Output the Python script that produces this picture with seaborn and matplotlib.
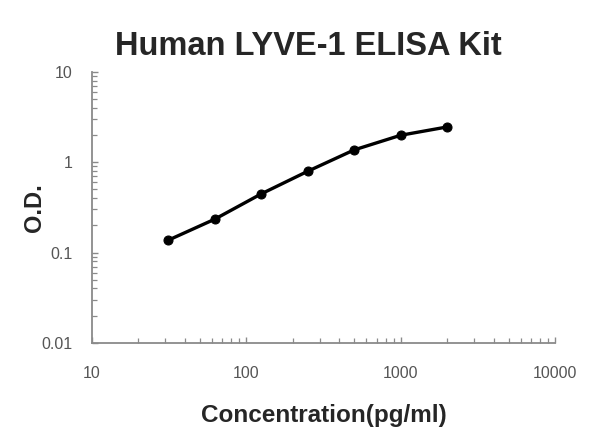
import matplotlib
matplotlib.use("Agg")
import matplotlib.pyplot as plt
import matplotlib.ticker as mticker
import seaborn as sns
import pandas as pd

# standard curve values
concentration = [31.25, 62.5, 125, 250, 500, 1000, 2000]
od = [0.137, 0.234, 0.446, 0.794, 1.37, 1.99, 2.46]

x_ticks = [10, 100, 1000, 10000]
x_tick_labels = ["10", "100", "1000", "10000"]
y_ticks = [0.01, 0.1, 1, 10]
y_tick_labels = ["0.01", "0.1", "1", "10"]

df = pd.DataFrame({"conc": concentration, "od": od})

sns.set_style("white")
plt.rcParams["font.family"] = ["Liberation Sans", "DejaVu Sans"]

fig = plt.figure(figsize=(6, 4.47), dpi=100)
ax = fig.add_axes([0.153, 0.233, 0.772, 0.606])

sns.lineplot(data=df, x="conc", y="od", ax=ax, color="black", linewidth=2.4,
             marker="o", markersize=6.5, markeredgecolor="black")

ax.set_xscale("log")
ax.set_yscale("log")
ax.set_xlim(10, 10000)
ax.set_ylim(0.01, 10)

ax.set_xticks(x_ticks)
ax.set_xticklabels(x_tick_labels)
ax.set_yticks(y_ticks)
ax.set_yticklabels(y_tick_labels)
ax.xaxis.set_minor_locator(mticker.LogLocator(base=10, subs=range(2, 10)))
ax.yaxis.set_minor_locator(mticker.LogLocator(base=10, subs=range(2, 10)))
ax.xaxis.set_minor_formatter(mticker.NullFormatter())
ax.yaxis.set_minor_formatter(mticker.NullFormatter())

axis_grey = "#8a8a8a"
for side in ["top", "right"]:
    ax.spines[side].set_visible(False)
for side in ["left", "bottom"]:
    ax.spines[side].set_color(axis_grey)
    ax.spines[side].set_linewidth(1.3)

# the white style switches ticks off, turn them back on (inward, grey)
ax.tick_params(which="both", bottom=True, left=True, top=False, right=False,
               direction="in", colors=axis_grey, labelcolor="#555555", labelsize=11.5)
ax.tick_params(which="major", length=4, width=1)
ax.tick_params(which="minor", length=3.5, width=0.9)
ax.tick_params(axis="x", which="major", pad=17)
ax.tick_params(axis="y", which="major", pad=14)

ax.set_xlabel("Concentration(pg/ml)", fontsize=17.5, fontweight="bold")
ax.xaxis.set_label_coords(0.5, -0.269)
ax.xaxis.label.set_va("center")
ax.set_ylabel("O.D.", fontsize=17, fontweight="bold")
ax.yaxis.set_label_coords(-0.123, 0.5)
ax.yaxis.label.set_va("center")

fig.suptitle("Human LYVE-1 ELISA Kit", x=0.514, y=1 - 55 / 447, va="baseline",
             fontsize=23.5, fontweight="bold")

fig.savefig("out.png", dpi=100)
